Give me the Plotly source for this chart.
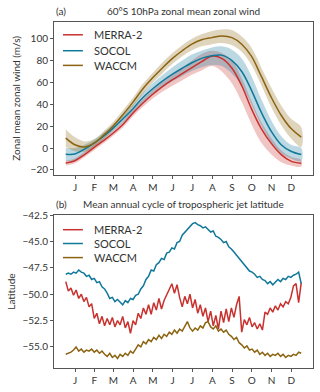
import plotly.graph_objects as go
from plotly.subplots import make_subplots

# ---- panel (a): 60S 10hPa zonal mean zonal wind (m/s) ----
days_a = [1, 15, 30, 46, 60, 74, 90, 105, 120, 135, 150, 166, 181,
          196, 211, 227, 242, 258, 273, 288, 303, 319, 334, 349, 365]

merra_u = [-13.8, -11.7, -6, 1, 7, 13.5, 22, 32, 41, 49, 56, 62.5, 68,
           73.5, 79, 84, 82, 73, 57, 36, 18, 4, -6, -12, -14]
merra_lo = [-16, -14, -8.5, -1.5, 4.5, 11, 19, 29, 37.5, 45, 51.5, 57, 62,
            67, 71, 75, 70, 59, 42, 22, 5, -6, -13, -16, -17]
merra_hi = [-11.5, -9.5, -3.5, 3.5, 9.5, 16, 25, 35, 44.5, 53, 60, 67, 73.5,
            80, 86, 89, 87, 80, 64, 43, 24, 9, -2, -8, -11]

socol_u = [-5.7, -5.5, -1, 5, 11, 18, 27, 36, 46, 54, 61, 67.5, 73,
           78, 82, 84.5, 85, 80, 70, 53, 33, 15, 3, -3, -6]
socol_lo = [-12, -11.5, -5, 2, 8, 15, 23.5, 32, 41.5, 49, 55.5, 61, 66,
            70.5, 74, 76, 75, 68, 57, 40, 21, 5, -5, -9.5, -12]
socol_hi = [0, 0, 3, 8, 14.5, 21.5, 30.5, 40, 50.5, 59, 66.5, 74, 80,
            85.5, 89, 92, 93, 90, 82, 66, 45, 25, 11, 3, 0]

waccm_u = [9, 3, 1, 5, 12, 20, 31, 42, 54, 64, 73, 82, 89,
           95, 99, 101, 102.5, 101, 95, 84, 66, 46, 30, 18, 10]
waccm_lo = [1, -3, -3.5, 1.5, 8.5, 16.5, 27, 38, 49.5, 59.5, 68, 77, 84,
            89.5, 93, 95, 96, 94, 88, 76, 58, 37, 21, 9, 1]
waccm_hi = [17, 10, 6, 8.5, 15.5, 23.5, 35, 46, 58.5, 68.5, 78, 87, 94,
            100, 104, 107, 108.5, 108, 102, 92, 74, 55, 39, 27, 19]

# ---- panel (b): tropospheric jet latitude, every 4th day ----
days_b = list(range(1, 366, 4))

merra_lat = [-48.8, -49.7, -49.4, -50.1, -49.6, -50.4, -50.0, -50.7, -50.3, -51.2,
             -50.9, -52.3, -51.8, -52.8, -52.1, -53.0, -52.3, -52.9, -52.2, -53.1,
             -52.5, -52.9, -52.1, -53.2, -52.6, -53.7, -52.5, -52.9, -51.8, -52.3,
             -51.3, -51.9, -51.0, -51.9, -50.8, -51.5, -50.4, -51.4, -50.6, -50.1,
             -49.6, -49.0, -49.9, -49.1, -50.3, -51.2, -50.2, -50.9, -50.0, -51.3,
             -50.5, -51.8, -51.0, -52.1, -51.3, -52.6, -51.6, -53.0, -52.0, -53.3,
             -51.6, -52.7, -51.4, -52.6, -51.3, -52.2, -51.0, -50.2, -53.6, -52.4,
             -52.9, -52.2, -53.1, -52.7, -53.3, -52.8, -53.4, -51.7, -51.9, -51.3,
             -51.7, -51.1, -51.5, -50.9, -51.2, -50.7, -50.9, -50.3, -49.2, -49.0,
             -50.8, -48.9]

socol_lat = [-48.1, -48.0, -48.1, -47.9, -48.0, -47.7, -47.9, -48.0, -48.3, -48.2,
             -48.6, -48.5, -48.9, -48.8, -49.3, -49.5, -49.9, -50.4, -50.3, -50.7,
             -50.5, -50.8, -51.0, -50.6, -50.8, -50.4, -50.5, -50.1, -50.0, -49.5,
             -49.2, -48.6, -48.3, -47.7, -47.8, -47.2, -47.0, -46.6, -46.7, -46.1,
             -46.0, -45.6, -45.7, -45.1, -45.0, -44.4, -44.1, -43.8, -43.6, -43.3,
             -43.2, -43.4, -43.5, -43.7, -43.6, -43.9, -44.1, -44.0, -44.5, -44.6,
             -44.8, -45.1, -45.0, -45.5, -45.7, -46.0, -46.3, -46.7, -46.9, -47.3,
             -47.5, -47.8, -47.9, -48.1, -48.4, -48.3, -48.6, -48.7, -49.0, -48.8,
             -49.1, -48.8, -48.6, -48.8, -48.5, -48.6, -48.3, -48.4, -48.2, -48.1,
             -47.9, -49.0]

waccm_lat = [-55.7, -55.6, -55.5, -55.3, -55.0, -55.4, -55.2, -55.5, -55.3, -55.4,
             -55.2, -55.5, -55.3, -55.6, -55.4, -55.7, -55.9, -55.6, -56.0, -55.8,
             -56.1, -55.7, -55.9, -55.6, -55.8, -55.4, -55.6, -55.2, -54.8, -55.0,
             -54.5, -54.7, -54.3, -54.5, -54.1, -54.3, -53.9, -54.2, -53.8, -54.0,
             -53.6, -53.8, -53.4, -53.7, -53.3, -53.5, -53.0, -52.6, -53.2, -53.5,
             -53.2, -53.4, -53.0, -53.2, -52.7, -52.6, -53.1, -53.3, -53.0, -53.5,
             -53.3, -53.6, -53.4, -53.8, -54.0, -54.3, -54.1, -54.6, -54.8, -55.1,
             -54.9, -55.3, -55.2, -55.5, -55.3, -55.7, -55.5, -55.8, -55.6, -55.9,
             -55.7, -55.8, -55.6, -55.9, -55.7, -56.0, -55.8, -55.9, -55.7, -55.8,
             -55.5, -55.6]

month_mid = [15.5, 45, 74.5, 105, 135.5, 166, 196.5, 227.5, 258, 288.5, 319, 349.5]
month_lab = ["J", "F", "M", "A", "M", "J", "J", "A", "S", "O", "N", "D"]

names = ["MERRA-2", "SOCOL", "WACCM"]
colors = ["#c8312e", "#10789a", "#8c6310"]
bands = ["rgba(200,49,46,0.28)", "rgba(16,120,154,0.28)", "rgba(140,99,16,0.28)"]

FONT = "Lato"
AX = "#555555"
tfont = dict(family=FONT, size=10, color="#333")

fig = make_subplots(rows=2, cols=1, vertical_spacing=0.1168)

# shaded spread, panel (a)
for lo, hi, fc in zip([merra_lo, socol_lo, waccm_lo],
                      [merra_hi, socol_hi, waccm_hi], bands):
    fig.add_trace(go.Scatter(
        x=days_a + days_a[::-1], y=hi + lo[::-1],
        fill="toself", fillcolor=fc, line=dict(width=0, shape="spline"),
        mode="lines", hoverinfo="skip", showlegend=False
    ), row=1, col=1)

for name, ys, c in zip(names, [merra_u, socol_u, waccm_u], colors):
    fig.add_trace(go.Scatter(
        x=days_a, y=ys, name=name, mode="lines", showlegend=False,
        line=dict(color=c, width=1.5, shape="spline")
    ), row=1, col=1)

for name, ys, c in zip(names, [merra_lat, socol_lat, waccm_lat], colors):
    fig.add_trace(go.Scatter(
        x=days_b, y=ys, name=name, mode="lines", showlegend=False,
        line=dict(color=c, width=1.5)
    ), row=2, col=1)

axis_style = dict(
    showline=True, linecolor=AX, linewidth=1, mirror=True,
    ticks="outside", ticklen=3, tickcolor=AX, tickwidth=1,
    showgrid=False, zeroline=False, tickfont=tfont,
)

for r in (1, 2):
    fig.update_xaxes(range=[-17.2, 383.2], tickvals=month_mid, ticktext=month_lab,
                     row=r, col=1, **axis_style)

fig.update_yaxes(range=[-24.5, 115.3], tickvals=[-20, 0, 20, 40, 60, 80, 100],
                 title=dict(text="Zonal mean zonal wind (m/s)", standoff=8, font=tfont),
                 row=1, col=1, **axis_style)
fig.update_yaxes(range=[-57.0, -42.5], tickvals=[-55, -52.5, -50, -47.5, -45, -42.5],
                 tickformat=".1f",
                 title=dict(text="Latitude", standoff=4, font=tfont),
                 row=2, col=1, **axis_style)

# legends drawn as short line samples + labels inside each panel
shapes = []
annotations = []
for ys_leg in ([0.963, 0.917, 0.8746], [0.3997, 0.3598, 0.3191]):
    for name, c, yl in zip(names, colors, ys_leg):
        shapes.append(dict(type="line", xref="paper", yref="paper",
                           x0=0.0346, x1=0.1115, y0=yl, y1=yl,
                           line=dict(color=c, width=1.5)))
        annotations.append(dict(text=name, x=0.146, y=yl, xref="paper", yref="paper",
                                xanchor="left", yanchor="middle", showarrow=False,
                                font=dict(family=FONT, size=11, color="#333")))

for lab, title, ytop in (("(a)", "60°S 10hPa zonal mean zonal wind", 1.0),
                         ("(b)", "Mean annual cycle of tropospheric jet latitude", 0.4416)):
    annotations.append(dict(text=lab, x=0, y=ytop, xref="paper", yref="paper",
                            xanchor="left", yanchor="bottom", yshift=3,
                            showarrow=False, font=tfont))
    annotations.append(dict(text=title, x=0.5, y=ytop, xref="paper", yref="paper",
                            xanchor="center", yanchor="bottom", yshift=3,
                            showarrow=False, font=tfont))

fig.update_layout(
    width=320, height=392,
    margin=dict(l=54, r=6, t=22, b=19),
    plot_bgcolor="white", paper_bgcolor="white",
    font=tfont, showlegend=False,
    shapes=shapes, annotations=annotations,
)

# drop the browser's default body margin so the figure sits at the page corner
fig.write_html("out.html", config={"displayModeBar": False},
               post_script="document.body.style.margin='0';")
